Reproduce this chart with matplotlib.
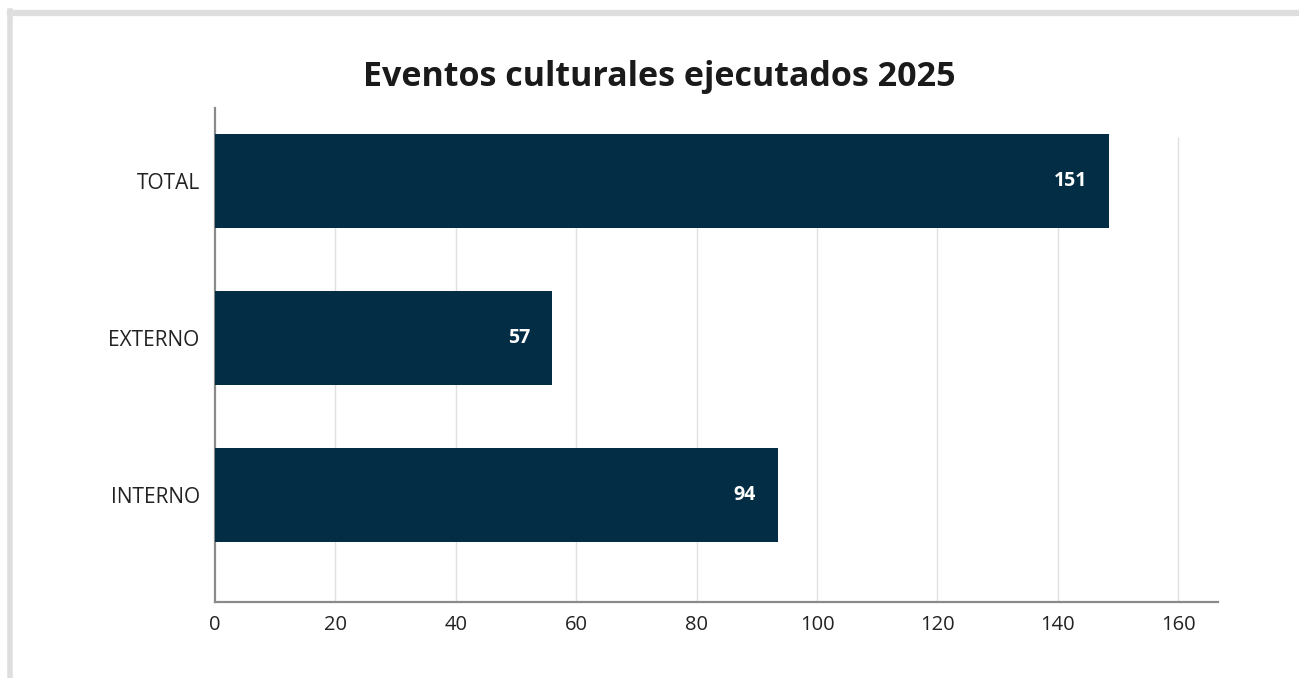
import matplotlib.pyplot as plt
from matplotlib.lines import Line2D

plt.rcParams['font.family'] = ['Open Sans', 'DejaVu Sans']

# datos
categorias = ["INTERNO", "EXTERNO", "TOTAL"]
valores = [93.5, 56, 148.5]          # largo de las barras
etiquetas = ["94", "57", "151"]      # numeros mostrados en las barras
ticks_x = [0, 20, 40, 60, 80, 100, 120, 140, 160]

color_barra = "#022d44"

fig = plt.figure(figsize=(12.99, 6.78), dpi=100)
ax = fig.add_axes([215 / 1299, 1 - 602 / 678, (1218 - 215) / 1299, (602 - 108) / 678])

# marco gris arriba e izquierda
fig.add_artist(Line2D([9.5 / 1299, 1.0], [1 - 13 / 678, 1 - 13 / 678], color="#dedede", lw=4.5,
                      transform=fig.transFigure))
fig.add_artist(Line2D([9.5 / 1299, 9.5 / 1299], [0.0, 1 - 10.5 / 678], color="#dedede", lw=4.0,
                      transform=fig.transFigure))

pos = range(len(categorias))
ax.barh(pos, valores, height=0.6, color=color_barra, zorder=3)

ax.set_xlim(0, 166.6)
ax.set_ylim(-0.68, 2.465)

# lineas de grilla verticales
y_top_grid = 2.465 - (137 - 108) / 157
ax.vlines(ticks_x[1:], -0.68, y_top_grid, color="#e0e0e0", lw=1, zorder=1)

for p, v, t in zip(pos, valores, etiquetas):
    ax.annotate(t, (v, p), xytext=(-16, 0), textcoords="offset points", ha="right", va="center",
                color="white", fontsize=14, fontweight="bold", zorder=4)

ax.set_xticks(ticks_x)
ax.set_xticklabels([str(t) for t in ticks_x], fontsize=14.5, color="#222222")
ax.set_yticks(list(pos))
ax.set_yticklabels(categorias, fontsize=15, color="#222222")
ax.tick_params(axis="both", length=0)
ax.tick_params(axis="x", pad=9)
ax.tick_params(axis="y", pad=11)

for s in ["top", "right"]:
    ax.spines[s].set_visible(False)
for s in ["left", "bottom"]:
    ax.spines[s].set_color("#8a8a8a")
    ax.spines[s].set_linewidth(1.6)

fig.text(659 / 1299, 1 - 77 / 678, "Eventos culturales ejecutados 2025", ha="center", va="center",
         fontsize=24.5, fontweight="bold", color="#1a1a1a")

fig.savefig("out.png", dpi=100)
